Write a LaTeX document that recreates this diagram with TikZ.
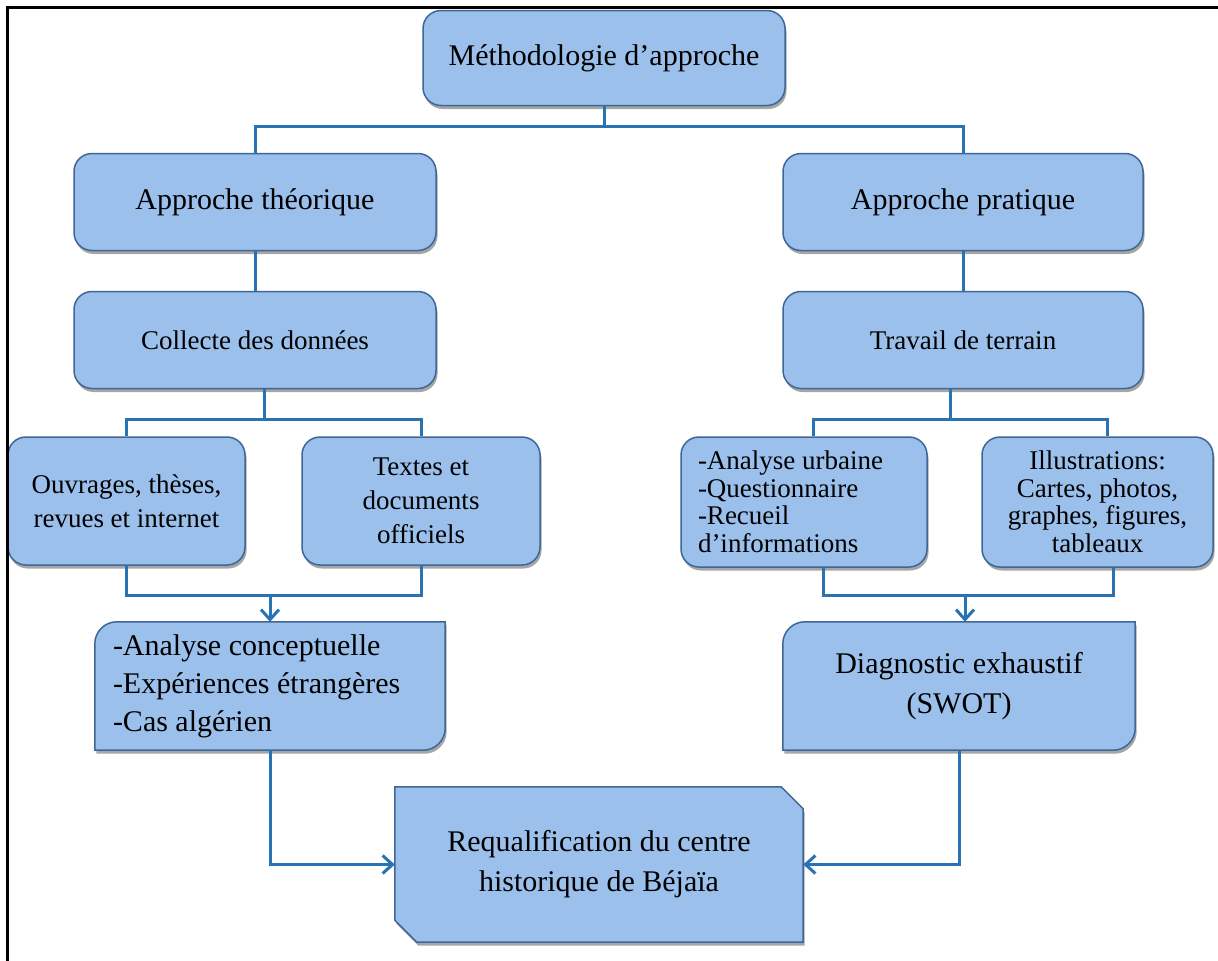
\documentclass[tikz,border=0pt]{standalone}
\usepackage{fontspec}
\setmainfont{Liberation Serif}
\usetikzlibrary{shadows,arrows.meta,calc,backgrounds}
\definecolor{boxfill}{RGB}{155,192,236}
\definecolor{boxline}{RGB}{62,102,150}
\definecolor{conncol}{RGB}{40,115,180}
\newcommand\mydiagbox[2]{%
  \path[shapesty] ($(#1.north west)+(0,#2)$) .. controls ($(#1.north west)+(0,0.45*#2)$) and ($(#1.north west)+(0.45*#2,0)$) .. ($(#1.north west)+(#2,0)$)
    -- (#1.north east) -- ($(#1.south east)+(0,-#2)$) .. controls ($(#1.south east)+(0,-0.45*#2)$) and ($(#1.south east)+(-0.45*#2,0)$) .. ($(#1.south east)+(-#2,0)$)
    -- (#1.south west) -- cycle;}
\newcommand\mysnipbox[2]{%
  \path[shapesty] (#1.north west) -- ($(#1.north east)+(-#2,0)$) -- ($(#1.north east)+(0,#2)$) -- (#1.south east)
    -- ($(#1.south west)+(#2,0)$) -- ($(#1.south west)+(0,-#2)$) -- cycle;}
\begin{document}
\begin{tikzpicture}[x=1pt,y=-1pt,
  shad/.style={drop shadow={shadow xshift=1.5pt,shadow yshift=-3.5pt,opacity=0.35,fill=black}},
  shapesty/.style={draw=boxline,line width=1.5pt,fill=boxfill,shad},
  rbox/.style={shapesty,rounded corners=18pt,inner sep=0pt,align=center},
  tbox/.style={inner sep=0pt},
  conn/.style={draw=conncol,line width=3pt},
  arr/.style={conn,-{Straight Barb[length=10pt,width=18pt,line width=3pt]}},
  fa/.style={font=\fontsize{30}{40}\selectfont},
  fb/.style={font=\fontsize{27}{34}\selectfont},
  fc/.style={font=\fontsize{27}{27.5}\selectfont},
  fd/.style={font=\fontsize{30}{38}\selectfont}
]
\useasboundingbox (0,0) rectangle (1218,961);

% nodes
\node[rbox,fa,minimum width=362pt,minimum height=95pt] (meth) at (604,58) {Méthodologie d’approche};
\node[rbox,fa,minimum width=362pt,minimum height=97pt] (th) at (255,202) {Approche théorique};
\node[rbox,fa,minimum width=360pt,minimum height=97pt] (pr) at (963,202) {Approche pratique};
\node[rbox,fb,minimum width=362pt,minimum height=97pt] (col) at (255,340) {Collecte des données};
\node[rbox,fb,minimum width=360pt,minimum height=97pt] (tr) at (963,340) {Travail de terrain};
\node[rbox,fb,minimum width=237pt,minimum height=128pt] (ouv) at (126.5,501) {Ouvrages, thèses,\\revues et internet};
\node[rbox,fb,minimum width=238pt,minimum height=128pt] (tex) at (421,501) {Textes et\\documents\\officiels};
\node[rbox,fc,minimum width=246pt,minimum height=130pt,text width=212pt,align=flush left] (au) at (804,502) {-Analyse urbaine\\-Questionnaire\\-Recueil\\d’informations};
\node[rbox,fc,minimum width=231pt,minimum height=130pt] (il) at (1097.5,502) {Illustrations:\\Cartes, photos,\\graphes, figures,\\tableaux};
\node[tbox,fd,minimum width=350pt,minimum height=128pt,text width=314pt,align=flush left] (ac) at (270,686) {-Analyse conceptuelle\\-Expériences étrangères\\-Cas algérien};
\node[tbox,fa,minimum width=352pt,minimum height=128pt,align=center] (dg) at (959,686) {Diagnostic exhaustif\\(SWOT)};
\node[tbox,fa,minimum width=408pt,minimum height=155pt,align=center] (rq) at (599,864.5) {Requalification du centre\\historique de Béjaïa};

\begin{pgfonlayer}{background}
  \fill[white] (0,0) rectangle (1218,961);
  \mydiagbox{ac}{22}
  \mydiagbox{dg}{22}
  \mysnipbox{rq}{22}
\end{pgfonlayer}

% frame
\draw[line width=3pt] (7,961) -- (7,7.5) -- (1218,7.5);

% connectors
\coordinate (bar1) at (0,126);
\draw[conn] (meth.south) -- (meth.south |- bar1);
\draw[conn] (th.north) -- (th.north |- bar1) -- (pr.north |- bar1) -- (pr.north);
\draw[conn] (th.south) -- (col.north);
\draw[conn] (pr.south) -- (tr.north);

\coordinate (lbar) at (0,419);
\coordinate (colout) at ($(col.south)+(9,0)$);
\draw[conn] (colout) -- (colout |- lbar);
\draw[conn] (ouv.north) -- (ouv.north |- lbar) -- (tex.north |- lbar) -- (tex.north);

\coordinate (rbar) at (0,419);
\coordinate (trout) at ($(tr.south)+(-13,0)$);
\coordinate (auin) at ($(au.north)+(9,0)$);
\coordinate (ilin) at ($(il.north)+(10,0)$);
\draw[conn] (trout) -- (trout |- rbar);
\draw[conn] (auin) -- (auin |- rbar) -- (ilin |- rbar) -- (ilin);

\coordinate (lm) at (0,595);
\draw[conn] (ouv.south) -- (ouv.south |- lm) -- (tex.south |- lm) -- (tex.south);
\draw[arr] (ac.north |- lm) -- (ac.north);

\coordinate (rm) at (0,595);
\coordinate (auout) at ($(au.south)+(19,0)$);
\coordinate (ilout) at ($(il.south)+(16,0)$);
\coordinate (dgin) at ($(dg.north)+(6,0)$);
\draw[conn] (auout) -- (auout |- rm) -- (ilout |- rm) -- (ilout);
\draw[arr] (dgin |- rm) -- (dgin);

\draw[arr] (ac.south) |- (rq.west);
\draw[arr] (dg.south) |- (rq.east);
\end{tikzpicture}
\end{document}
